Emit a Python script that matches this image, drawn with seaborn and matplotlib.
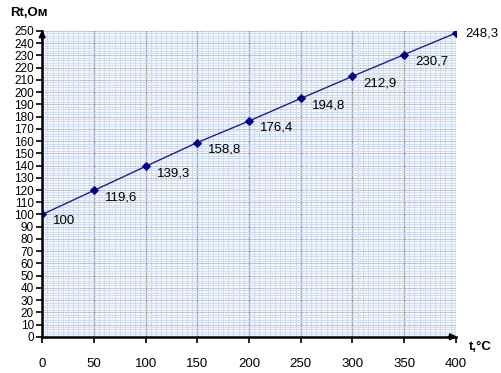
import numpy as np
import pandas as pd
import matplotlib
matplotlib.use("Agg")
import matplotlib.pyplot as plt
import seaborn as sns
from matplotlib.ticker import MultipleLocator

# data
temps = [0, 50, 100, 150, 200, 250, 300, 350, 400]
resist = [100, 119.6, 139.3, 158.8, 176.4, 194.8, 212.9, 230.7, 248.3]
labels = ["100", "119,6", "139,3", "158,8", "176,4", "194,8", "212,9", "230,7", "248,3"]

df = pd.DataFrame({"t": temps, "R": resist})

sns.set_style("white")
plt.rcParams["font.family"] = ["Liberation Sans", "DejaVu Sans"]
plt.rcParams["text.color"] = "black"
plt.rcParams["xtick.color"] = "black"
plt.rcParams["ytick.color"] = "black"

fig = plt.figure(figsize=(5.02, 3.73), dpi=100)
ax = fig.add_axes([0.084, 0.097, 0.824, 0.82])
ax.set_facecolor("#f4f7fd")

# minor grid (fine blue)
ax.xaxis.set_minor_locator(MultipleLocator(5))
ax.yaxis.set_minor_locator(MultipleLocator(2))
ax.grid(which="minor", color="#cad8f0", linewidth=0.6)
ax.set_xticks(range(0, 401, 50))
ax.set_yticks(range(0, 251, 10))
ax.grid(which="major", axis="x", color="#a8a8a8", linewidth=1.0)
ax.grid(which="major", axis="y", color="#a8a8b0", linewidth=0.6, linestyle=(0, (2, 1)))
ax.set_axisbelow(True)

sns.lineplot(data=df, x="t", y="R", ax=ax, color="#202090", linewidth=1.0,
             marker="D", markersize=4.5, markerfacecolor="#000080",
             markeredgecolor="#000080", legend=False)

for x, y, s in zip(temps, resist, labels):
    if x == 400:
        ax.annotate(s, (x, y), xytext=(7, 0), textcoords="offset points",
                    fontsize=9.5, va="center", ha="left", annotation_clip=False)
    else:
        ax.annotate(s, (x, y), xytext=(8, -5), textcoords="offset points",
                    fontsize=9.5, va="center", ha="left")

ax.set_xlim(0, 400)
ax.set_ylim(0, 250)
ax.set_xlabel("")
ax.set_ylabel("")

for side in ["top", "right"]:
    ax.spines[side].set_visible(False)
for side in ["left", "bottom"]:
    ax.spines[side].set_color("black")
    ax.spines[side].set_linewidth(1.8)

# arrow heads on axes
ax.annotate("", xy=(404, 0), xytext=(390, 0), annotation_clip=False,
            arrowprops=dict(arrowstyle="-|>", color="black", lw=1.5, mutation_scale=9))
ax.annotate("", xy=(0, 253), xytext=(0, 240), annotation_clip=False,
            arrowprops=dict(arrowstyle="-|>", color="black", lw=1.5, mutation_scale=9))

ax.tick_params(axis="both", which="major", direction="out", length=4, width=1.2,
               color="black", labelsize=9.5, left=True, bottom=True)
ax.tick_params(axis="y", labelsize=8.5, pad=2)
ax.tick_params(axis="x", pad=11)
ax.tick_params(which="minor", length=0)

fig.text(0.02, 0.965, "Rt,Ом", fontsize=9.5, fontweight="bold", ha="left", va="center")
fig.text(0.935, 0.07, "t,°C", fontsize=9.5, fontweight="bold", ha="left", va="center")

fig.savefig("out.png", dpi=100)
